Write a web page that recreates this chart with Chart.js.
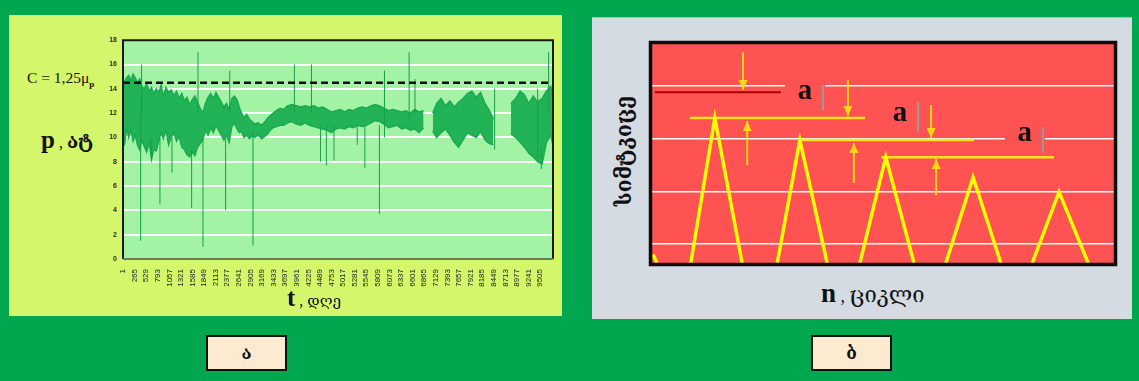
<!DOCTYPE html>
<html><head><meta charset="utf-8">
<script src="https://cdn.jsdelivr.net/npm/chart.js@4.4.1/dist/chart.umd.min.js"></script>
<style>
html,body{margin:0;padding:0;}
body{width:1139px;height:381px;background:#00A74F;position:relative;overflow:hidden;font-family:"Liberation Serif","DejaVu Serif",serif;}
.panel{position:absolute;}
#pl{left:9px;top:15px;width:553px;height:301px;background:#D4F66B;}
#pr{left:592px;top:17px;width:540px;height:301px;background:#D5DBE3;border-top:1px solid #BBAEE6;}
canvas{position:absolute;}
#cl{left:95px;top:30px;}
#cr{left:640px;top:34px;}
.txt{position:absolute;white-space:nowrap;color:#111;}
.geo{font-family:"DejaVu Serif","DejaVu Sans",serif;}
.box{position:absolute;background:#FDEBD1;border:2px solid #111;box-sizing:border-box;text-align:center;font-family:"DejaVu Serif","DejaVu Sans",serif;font-weight:bold;font-size:17px;line-height:32px;color:#111;}
</style></head>
<body>
<div class="panel" id="pl"></div>
<div class="panel" id="pr"></div>
<canvas id="cl" width="470" height="275"></canvas>
<canvas id="cr" width="490" height="240"></canvas>

<div class="txt" style="left:27px;top:69px;font-size:15.5px;">C = 1,25μ<sub style="font-size:9px;font-weight:bold;">p</sub></div>
<div class="txt" style="left:41px;top:126px;"><span style="font-size:25px;font-weight:bold;">p</span><span style="font-size:16px;"> , </span><span class="geo" style="font-size:19px;font-weight:bold;">ატ</span></div>
<div class="txt" style="left:287px;top:284px;"><span style="font-size:25px;font-weight:bold;">t</span><span style="font-size:16px;"> , </span><span class="geo" style="font-size:15px;">დღე</span></div>
<div class="txt geo" style="left:623px;top:151px;font-size:21px;font-weight:bold;transform:translate(-50%,-50%) rotate(-90deg);">სიმტკიცე</div>
<div class="txt" style="left:821px;top:278px;"><span style="font-size:27px;font-weight:bold;">n</span><span style="font-size:18px;"> , </span><span class="geo" style="font-size:22px;">ციკლი</span></div>

<div class="box" style="left:206px;top:335px;width:81px;height:36px;">ა</div>
<div class="box" style="left:811px;top:335px;width:81px;height:36px;">ბ</div>

<script>
// ---------- Left chart data (pressure p, at) ----------
const xTickLabels = [1,265,529,793,1057,1321,1585,1849,2113,2377,2641,2905,3169,3433,3697,3961,4225,4489,4753,5017,5281,5545,5809,6073,6337,6601,6865,7129,7393,7657,7921,8185,8449,8713,8977,9241,9505];
const yTicks = [0,2,4,6,8,10,12,14,16,18];
// band of the noisy series, per segment: day, upper value, lower value
const segA_T  = [0,40,80,130,180,230,280,330,380,430,480,540,600,650,700,760,820,870,920,980,1040,1100,1160,1220,1280,1340,1400,1460,1520,1580,1640,1700,1760,1820,1880,1940,2000,2060,2120,2180,2240,2300,2360,2420,2480,2540,2600,2650];
const segA_Hi = [13.2,14.6,14.9,15.1,14.7,15.2,14.9,14.5,14.8,14.2,14.0,14.4,13.8,14.1,13.6,14.0,13.7,14.3,13.4,14.1,13.7,13.9,13.4,13.8,13.2,13.6,13.0,13.3,12.7,13.1,13.4,12.9,12.4,12.0,12.8,13.3,13.6,13.2,13.7,13.3,12.9,12.5,12.8,12.3,13.2,13.4,13.1,12.5];
const segA_Lo = [9.2,9.5,10.8,10.0,10.6,9.7,10.2,9.4,9.0,9.8,9.3,8.8,9.6,8.2,9.0,8.9,9.8,10.4,9.9,10.6,9.4,10.0,10.4,9.7,10.1,9.2,9.0,8.6,8.4,8.8,8.5,9.2,9.5,9.8,10.6,10.2,10.8,10.4,11.0,10.6,10.2,9.8,10.2,9.6,10.9,11.2,10.7,10.4];
const segB_T  = [2700,2760,2820,2880,2940,3000,3080,3160,3240,3300,3360,3420,3500,3580,3660,3750,3850,3950,4050,4150,4250,4350,4450,4550,4650,4750,4850,4950,5050,5150,5250,5350,5450,5550,5650,5750,5850,5950,6050,6150,6250,6350,6450,6550,6650,6750,6850];
const segB_Hi = [12.0,11.6,11.9,11.5,11.3,11.1,11.2,11.0,11.3,11.6,11.8,12.0,12.2,12.4,12.3,12.6,12.7,12.6,12.5,12.6,12.5,12.6,12.4,12.5,12.3,12.1,12.2,12.3,12.1,12.3,12.2,12.4,12.5,12.4,12.6,12.7,12.6,12.4,12.2,12.3,12.2,12.1,12.2,12.0,12.3,12.1,12.2];
const segB_Lo = [10.5,10.0,10.2,9.9,10.1,10.0,10.2,9.9,10.1,10.3,10.6,10.8,10.9,11.0,11.0,11.2,11.3,11.1,11.0,11.2,11.0,10.9,10.8,10.7,10.6,10.4,10.7,10.8,10.7,10.9,10.8,11.0,10.9,11.0,11.2,11.4,11.3,11.1,10.8,10.9,11.0,10.7,10.8,10.6,10.7,10.4,10.8];
const segC_T  = [7060,7150,7250,7350,7450,7550,7650,7750,7850,7950,8050,8150,8250,8350,8440];
const segC_Hi = [12.0,12.8,13.2,12.6,13.0,12.5,12.9,13.2,13.6,13.8,13.3,13.7,12.8,12.2,11.5];
const segC_Lo = [10.5,10.0,10.4,10.7,10.2,9.6,9.2,9.8,10.4,10.2,10.0,10.5,9.8,9.5,9.4];
const segD_T  = [8840,8950,9050,9150,9250,9350,9450,9550,9650,9750,9790];
const segD_Hi = [12.8,13.2,13.8,13.5,12.8,13.4,12.9,13.2,13.8,14.2,13.5];
const segD_Lo = [10.3,10.0,9.6,9.2,8.7,8.4,8.0,7.8,9.6,10.2,9.5];
// isolated spikes: day, low end, high end
const spikeT    = [403,425,654,843,1117,1565,1710,1823,2340,2433,2963,3907,4296,4503,4635,4809,5339,5513,5844,5960,6522,6655,8470,9450,9535,9700];
const spikeLow  = [1.5,12,8.2,4.5,7.1,4.2,12,1.0,4.0,12,1.1,12,12,8.0,7.7,8.1,9.4,7.5,3.7,10,11.5,12,9,8.3,7.4,12];
const spikeHigh = [12,16,10,10,10,9,17,10,10,15.5,10.5,16,16,11,11,11,11,11,11,15.5,17,14.8,14,14,9,17];
const limitC = 14.5;            // C = 1,25 μp
const limitEndT = 9800, limitEndTop = 15.5;

// ---------- Right chart data (strength vs cycles, schematic) ----------
const cycX     = [0.2,1.1,null, 8.4,13.6,19.5,null, 27.1,32.0,37.9,null, 45.0,50.6,56.7,null, 63.6,69.5,75.5,null, 82.3,88.1,94.4];
const strength = [16.0,12.8,null, 12.8,67.9,12.8,null, 12.8,59.5,12.8,null, 12.8,53.0,12.8,null, 12.8,45.4,12.8,null, 12.8,39.8,12.8];
const levelLines = [ {x0:8.2,x1:46.1,y:67.9}, {x0:32.0,x1:69.7,y:59.5}, {x0:49.6,x1:87.0,y:53.0} ];
const startLevel = {x0:0.6,x1:27.9,y:77.7};
const arrows = [ {x:19.7,y0:92.9,y1:78.5}, {x:20.6,y0:50.0,y1:66.7}, {x:42.4,y0:82.3,y1:68.6}, {x:43.7,y0:43.2,y1:58.4}, {x:60.4,y0:72.8,y1:60.3}, {x:61.5,y0:38.6,y1:52.3} ];
const aLabels = [ {x:33.1,y:77.3,bar:37.0,b0:80.4,b1:70.9,cover:true}, {x:53.7,y:69.0,bar:57.6,b0:73.9,b1:62.5,cover:false}, {x:80.7,y:61.4,bar:84.6,b0:64.4,b1:54.9,cover:true} ];
const rGrid = [20,40,60,80];

// ---------- Left chart ----------
function segPts(T,V){return T.map((t,i)=>({x:t,y:V[i]}));}
const gapA={x:2675,y:null}, gapC={x:6950,y:null}, gapD={x:8600,y:null};
const bandUpper = [...segPts(segA_T,segA_Hi),...segPts(segB_T,segB_Hi),gapC,...segPts(segC_T,segC_Hi),gapD,...segPts(segD_T,segD_Hi)];
const bandLower = [...segPts(segA_T,segA_Lo),...segPts(segB_T,segB_Lo),gapC,...segPts(segC_T,segC_Lo),gapD,...segPts(segD_T,segD_Lo)];
const spikePts = [];
spikeT.forEach((t,i)=>{ spikePts.push({x:t,y:spikeLow[i]},{x:t,y:spikeHigh[i]},{x:t,y:null}); });

const plotFrameL = {
  id:'plotFrameL',
  beforeDraw(c){const a=c.chartArea,g=c.ctx;g.save();g.fillStyle='#A2F3A4';g.fillRect(a.left,a.top,a.right-a.left,a.bottom-a.top);g.restore();},
  afterDraw(c){const a=c.chartArea,g=c.ctx;g.save();g.lineWidth=2;g.strokeStyle='#1a1a1a';
    g.beginPath();g.moveTo(a.left,a.bottom);g.lineTo(a.left,a.top);g.lineTo(a.right,a.top);g.lineTo(a.right,a.bottom);g.stroke();
    g.strokeStyle='#6b7a55';g.beginPath();g.moveTo(a.left,a.bottom);g.lineTo(a.right,a.bottom);g.stroke();g.restore();}
};

new Chart(document.getElementById('cl'),{
  type:'line',
  data:{datasets:[
    {data:bandUpper,borderColor:'#1AAA50',borderWidth:1.5,pointRadius:0,fill:false,spanGaps:false,order:3},
    {data:bandLower,borderColor:'#1AAA50',borderWidth:1.5,pointRadius:0,fill:'-1',backgroundColor:'#22B357',spanGaps:false,order:3},
    {data:spikePts,borderColor:'#1A9E4A',borderWidth:1,pointRadius:0,spanGaps:false,order:2},
    {data:[{x:1,y:limitC},{x:limitEndT,y:limitC}],borderColor:'#111',borderWidth:2.5,borderDash:[7,4],pointRadius:0,order:0},
    {data:[{x:limitEndT,y:limitC},{x:limitEndT,y:limitEndTop}],borderColor:'#111',borderWidth:2,pointRadius:0,order:0}
  ]},
  options:{
    responsive:false,animation:false,
    layout:{padding:{top:7,right:12,left:0,bottom:0}},
    plugins:{legend:{display:false},tooltip:{enabled:false}},
    elements:{line:{tension:0}},
    scales:{
      x:{type:'linear',min:1,max:9800,
        afterBuildTicks:s=>{s.ticks=xTickLabels.map(v=>({value:v}));},
        afterFit:s=>{s.height=46;},
        ticks:{autoSkip:false,maxRotation:90,minRotation:90,padding:2,color:'#222',font:{family:'Liberation Sans',size:8},callback:v=>String(v)},
        grid:{display:false},border:{display:false}},
      y:{min:0,max:18,
        afterBuildTicks:s=>{s.ticks=yTicks.map(v=>({value:v}));},
        afterFit:s=>{s.width=28;},
        ticks:{padding:6,color:'#2b2b2b',font:{family:'Liberation Sans',size:7,weight:'bold'},callback:v=>String(v)},
        grid:{drawTicks:false,lineWidth:2,color:c=>(c.tick&&c.tick.value>0&&c.tick.value<18)?'#FFFFFF':'rgba(0,0,0,0)'},
        border:{display:false}}
    }
  },
  plugins:[plotFrameL]
});

// ---------- Right chart ----------
const dsR = [];
dsR.push({data:cycX.map((x,i)=>({x:x,y:strength[i]})),borderColor:'#FFFF00',borderWidth:3.5,pointRadius:0,spanGaps:false});
dsR.push({data:[{x:startLevel.x0,y:startLevel.y},{x:startLevel.x1,y:startLevel.y}],borderColor:'#B00000',borderWidth:2,pointRadius:0});
levelLines.forEach(l=>dsR.push({data:[{x:l.x0,y:l.y},{x:l.x1,y:l.y}],borderColor:'#FFE21A',borderWidth:2.5,pointRadius:0}));
arrows.forEach(a=>dsR.push({data:[{x:a.x,y:a.y0},{x:a.x,y:a.y1}],borderColor:'#FFD814',borderWidth:2,pointRadius:0}));
aLabels.forEach(l=>dsR.push({data:[{x:l.bar,y:l.b0},{x:l.bar,y:l.b1}],borderColor:'#9a9a9a',borderWidth:2,pointRadius:0}));

const plotFrameR = {
  id:'plotFrameR',
  beforeDraw(c){const a=c.chartArea,g=c.ctx;g.save();g.fillStyle='#FF5252';g.fillRect(a.left,a.top,a.right-a.left,a.bottom-a.top);g.restore();},
  beforeDatasetsDraw(c){const g=c.ctx,sx=c.scales.x,sy=c.scales.y;g.save();g.fillStyle='#FF5252';
    aLabels.forEach(l=>{if(!l.cover)return;const px=sx.getPixelForValue(l.x),py=sy.getPixelForValue(l.y);g.fillRect(px-20,py-14,40,26);});g.restore();},
  afterDatasetsDraw(c){const g=c.ctx,sx=c.scales.x,sy=c.scales.y;g.save();
    g.fillStyle='#FFD814';
    arrows.forEach(a=>{const px=sx.getPixelForValue(a.x),tip=sy.getPixelForValue(a.y1),dir=(a.y1<a.y0)?1:-1;
      g.beginPath();g.moveTo(px,tip);g.lineTo(px-4.5,tip-dir*10);g.lineTo(px+4.5,tip-dir*10);g.closePath();g.fill();});
    g.fillStyle='#111';g.font='bold 29px "Liberation Serif"';g.textAlign='center';g.textBaseline='middle';
    aLabels.forEach(l=>{g.fillText('a',sx.getPixelForValue(l.x),sy.getPixelForValue(l.y)-2);});g.restore();},
  afterDraw(c){const a=c.chartArea,g=c.ctx;g.save();g.lineWidth=3.5;g.strokeStyle='#0d0d0d';g.strokeRect(a.left-1.5,a.top-1.5,a.right-a.left+3,a.bottom-a.top+3);g.restore();}
};

new Chart(document.getElementById('cr'),{
  type:'line',
  data:{datasets:dsR},
  options:{
    responsive:false,animation:false,
    layout:{padding:{top:10,right:16,left:12,bottom:11}},
    plugins:{legend:{display:false},tooltip:{enabled:false}},
    elements:{line:{tension:0}},
    scales:{
      x:{type:'linear',min:0,max:100,afterFit:s=>{s.height=0;},ticks:{display:false},grid:{display:false},border:{display:false}},
      y:{min:12.8,max:96,afterBuildTicks:s=>{s.ticks=rGrid.map(v=>({value:v}));},afterFit:s=>{s.width=0;},
        ticks:{display:false},grid:{drawTicks:false,color:'#FFFFFF',lineWidth:1.5},border:{display:false}}
    }
  },
  plugins:[plotFrameR]
});
</script>
</body></html>
